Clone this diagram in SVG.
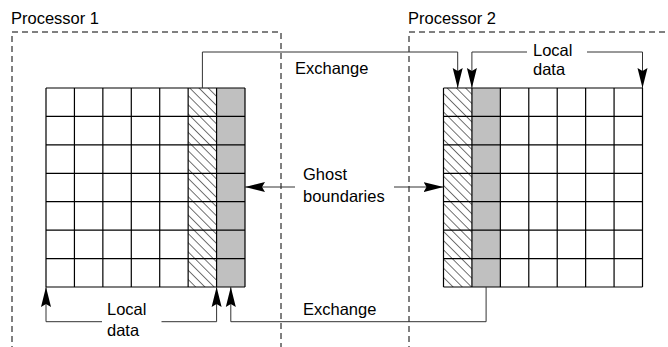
<svg xmlns="http://www.w3.org/2000/svg" width="668" height="347" viewBox="0 0 668 347">
  <style>
    .label { font-family: "Liberation Sans", Arial, sans-serif; font-size: 16.5px; fill: #000; }
    .proc { fill: none; stroke: #000; stroke-width: 1; stroke-dasharray: 6 4; }
    .grid { fill: none; stroke: #000; stroke-width: 1.2; }
    .ghost { fill: url(#hatch); stroke: none; }
    .boundary { fill: #c0c0c0; stroke: none; }
    .conn { fill: none; stroke: #333; stroke-width: 1; }
  </style>
  <defs>
    <pattern id="hatch" patternUnits="userSpaceOnUse" width="6.5" height="6.5" patternTransform="rotate(-45)">
      <rect width="6.5" height="6.5" fill="#fff"/>
      <line x1="0" y1="0" x2="0" y2="6.5" stroke="#000" stroke-width="1.1"/>
    </pattern>
    <marker id="arrow" markerUnits="userSpaceOnUse" markerWidth="22" markerHeight="12" viewBox="0 -6 22 12" refX="20" refY="0" orient="auto">
      <path d="M0,-5 L20,0 L0,5 L3,0 Z" fill="#000"/>
    </marker>
  </defs>

  <rect width="668" height="347" fill="#fff"/>

  <!-- Processor 1 domain -->
  <g id="processor1">
    <path class="proc" d="M12,352 V32 H281 V352"/>
    <text class="label" x="11" y="24">Processor 1</text>
  </g>

  <!-- Processor 2 domain -->
  <g id="processor2">
    <path class="proc" d="M409,352 V32 H672"/>
    <text class="label" x="408" y="24">Processor 2</text>
  </g>

  <!-- Processor 1 grid: ghost column (hatched) and boundary column (grey) -->
  <g id="grid1">
    <rect class="ghost" x="188.14" y="88" width="28.43" height="199"/>
    <rect class="boundary" x="216.57" y="88" width="28.43" height="199"/>
    <path class="grid" d="M46,88 V287 M74.43,88 V287 M102.86,88 V287 M131.29,88 V287 M159.71,88 V287 M188.14,88 V287 M216.57,88 V287 M245,88 V287
      M46,88 H245 M46,116.43 H245 M46,144.86 H245 M46,173.29 H245 M46,201.71 H245 M46,230.14 H245 M46,258.57 H245 M46,287 H245"/>
  </g>

  <!-- Processor 2 grid -->
  <g id="grid2">
    <rect class="ghost" x="443.5" y="88" width="28.43" height="199"/>
    <rect class="boundary" x="471.93" y="88" width="28.43" height="199"/>
    <path class="grid" d="M443.5,88 V287 M471.93,88 V287 M500.36,88 V287 M528.79,88 V287 M557.21,88 V287 M585.64,88 V287 M614.07,88 V287 M642.5,88 V287
      M443.5,88 H642.5 M443.5,116.43 H642.5 M443.5,144.86 H642.5 M443.5,173.29 H642.5 M443.5,201.71 H642.5 M443.5,230.14 H642.5 M443.5,258.57 H642.5 M443.5,287 H642.5"/>
  </g>

  <!-- Connectors -->
  <g id="connectors">
    <!-- exchange, top -->
    <path class="conn" d="M202.4,88 V52 H457.7 V88" marker-end="url(#arrow)"/>
    <!-- local data span, processor 2 -->
    <path class="conn" d="M527,52 H471.9 V88" marker-end="url(#arrow)"/>
    <path class="conn" d="M587,52 H642.5 V88" marker-end="url(#arrow)"/>
    <!-- ghost boundary pointers -->
    <path class="conn" d="M295,187 H245" marker-end="url(#arrow)"/>
    <path class="conn" d="M394,187 H443.5" marker-end="url(#arrow)"/>
    <!-- local data span, processor 1 -->
    <path class="conn" d="M102,321.7 H46 V287" marker-end="url(#arrow)"/>
    <path class="conn" d="M161.5,321.7 H216.6 V287" marker-end="url(#arrow)"/>
    <!-- exchange, bottom -->
    <path class="conn" d="M486.1,287 V321.7 H230.8 V287" marker-end="url(#arrow)"/>
  </g>

  <!-- Labels -->
  <g id="labels">
    <text class="label" x="295" y="74">Exchange</text>
    <text class="label" x="533" y="56">Local</text>
    <text class="label" x="533" y="75">data</text>
    <text class="label" x="303" y="180">Ghost</text>
    <text class="label" x="303" y="202">boundaries</text>
    <text class="label" x="107" y="315">Local</text>
    <text class="label" x="107" y="336">data</text>
    <text class="label" x="303" y="315">Exchange</text>
  </g>
</svg>
